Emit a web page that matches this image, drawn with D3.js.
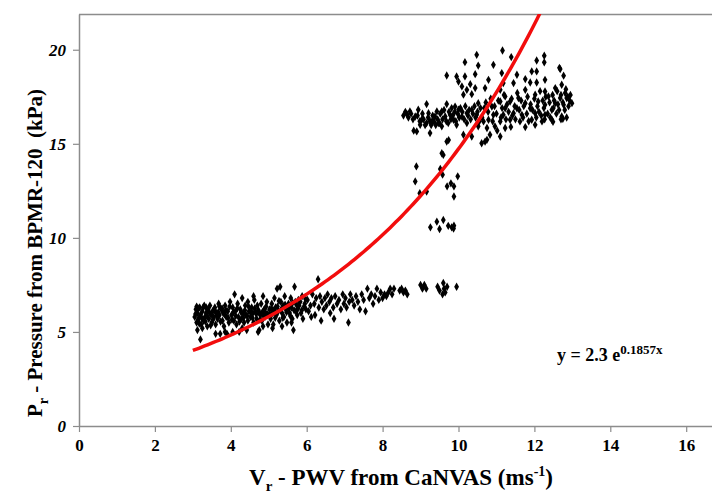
<!DOCTYPE html>
<html><head><meta charset="utf-8">
<script src="https://cdn.jsdelivr.net/npm/d3@7"></script>
<style>
html,body{margin:0;padding:0;background:#fff;}
svg{display:block;}
svg text{font-family:"Liberation Serif","Times New Roman",serif !important;}
</style></head>
<body>
<svg id="chart" width="712" height="493"></svg>
<script>
// ---------- data ----------
const xTicks = [0, 2, 4, 6, 8, 10, 12, 14, 16];
const yTicks = [0, 5, 10, 15, 20];
const fitA = 2.3, fitB = 0.1857;   // trend line y = 2.3 e^(0.1857x), shown on the chart
const fitRange = [3, 12.3];

const lowerCluster = [
[3.05,5.8],[3.08,6.2],[3.1,5.5],[3.12,6.0],[3.15,5.7],[3.18,6.3],[3.2,5.9],[3.22,5.4],[3.25,6.1],[3.28,5.6],[3.3,6.4],[3.32,5.8],[3.35,6.0],[3.38,5.3],[3.4,6.2],[3.42,5.7],[3.45,6.4],[3.48,5.9],[3.12,5.1],[3.2,4.6],[3.5,5.5],[3.35,6.3],[3.1,6.35],[3.25,5.2],
[3.52,6.1],[3.55,5.8],[3.58,6.3],[3.6,5.4],[3.62,6.0],[3.65,5.7],[3.68,6.5],[3.7,5.9],[3.72,4.9],[3.75,6.2],[3.78,5.6],[3.8,6.0],[3.82,5.3],[3.85,6.4],[3.88,5.8],[3.9,4.9],[3.92,6.1],[3.95,5.5],[3.98,6.6],[3.6,4.9],[3.85,5.0],[3.7,6.35],
[4.02,5.9],[4.05,6.3],[4.08,5.6],[4.1,7.0],[4.12,6.1],[4.15,5.4],[4.18,6.5],[4.2,5.8],[4.22,5.0],[4.25,6.2],[4.28,5.7],[4.3,6.8],[4.32,6.0],[4.35,5.5],[4.38,6.4],[4.4,5.9],[4.42,5.1],[4.45,6.6],[4.48,6.1],[4.05,5.0],[4.3,5.2],[4.45,5.6],
[4.52,5.8],[4.55,6.3],[4.58,6.0],[4.6,5.5],[4.62,6.7],[4.65,6.1],[4.68,5.7],[4.7,6.4],[4.72,5.0],[4.75,6.0],[4.78,5.9],[4.8,6.5],[4.82,5.6],[4.85,6.9],[4.88,6.2],[4.9,5.8],[4.92,6.0],[4.95,6.6],[4.98,5.4],[4.75,5.1],[4.6,6.9],[4.85,5.3],
[5.02,6.2],[5.05,5.7],[5.08,6.5],[5.1,6.0],[5.12,5.4],[5.15,6.8],[5.18,6.3],[5.2,5.9],[5.22,7.3],[5.25,6.1],[5.28,5.6],[5.3,7.4],[5.32,6.6],[5.35,6.0],[5.38,6.4],[5.4,5.8],[5.42,6.9],[5.45,6.2],[5.48,5.5],[5.1,5.2],[5.35,5.3],
[5.52,6.5],[5.55,6.0],[5.58,6.8],[5.6,6.3],[5.62,5.7],[5.65,5.1],[5.68,7.4],[5.7,6.6],[5.72,6.1],[5.75,5.9],[5.78,6.7],[5.8,6.4],[5.85,6.0],[5.88,6.9],[5.9,5.7],[5.95,6.5],[5.98,6.2],[5.6,5.5],
[6.02,6.7],[6.05,6.1],[6.1,6.4],[6.12,5.8],[6.15,7.0],[6.2,6.5],[6.22,5.9],[6.25,6.8],[6.3,7.8],[6.32,6.3],[6.35,6.9],[6.38,5.6],[6.4,6.6],[6.45,6.2],[6.48,6.8],
[6.52,6.4],[6.55,7.0],[6.6,6.6],[6.62,6.0],[6.65,6.8],[6.7,6.3],[6.72,5.7],[6.75,6.9],[6.8,6.5],[6.85,6.7],[6.9,6.2],[6.95,7.0],[6.98,6.5],
[7.02,6.8],[7.05,6.3],[7.1,5.5],[7.12,6.6],[7.15,7.0],[7.2,6.7],[7.25,6.4],[7.3,6.9],[7.35,6.6],[7.4,6.2],[7.45,7.0],
[7.5,6.7],[7.55,6.1],[7.6,7.3],[7.65,6.8],[7.7,7.0],[7.75,6.5],[7.8,6.9],[7.85,7.3],[7.9,6.7],[7.95,7.1],
[8.0,6.8],[8.05,7.0],[8.1,6.9],[8.15,7.1],[8.2,7.3],[8.25,7.0],[8.3,7.3],[8.45,7.2],[8.55,7.1],[8.6,7.2],[8.65,7.0],[8.5,7.3],
[9.0,7.5],[9.05,7.3],[9.1,7.5],[9.15,7.3],[9.45,7.4],[9.5,7.2],[9.6,7.6],[9.62,7.3],[9.65,7.1],[9.7,7.4],[9.58,7.0],[9.95,7.4],
[3.07,5.95],[3.14,6.25],[3.17,5.45],[3.23,5.75],[3.27,6.3],[3.33,5.55],[3.37,5.85],[3.43,6.05],[3.47,5.35],[3.53,5.65],[3.57,6.15],[3.63,5.85],[3.67,6.05],[3.73,5.55],[3.77,6.25],[3.83,5.95],[3.87,6.15],[3.93,5.75],[3.97,6.35],[4.03,5.65],[4.07,6.05],[4.13,5.85],[4.17,6.25],[4.23,5.55],[4.27,6.05],[4.33,5.75],[4.37,6.15],[4.43,5.85],[4.47,6.35],[4.53,6.05],[4.57,5.75],[4.63,6.25],[4.67,5.95],[4.73,6.15],[4.77,5.65],[4.83,6.05],[4.87,5.85],[4.93,6.35],[4.97,5.95],[5.03,5.95],[5.07,6.25],[5.13,6.15],[5.17,5.75],[5.23,6.35],[5.27,6.65],[5.33,6.2],[5.37,5.75],[5.43,6.45],[5.47,6.05],[5.53,6.25],[5.57,5.85],[5.63,6.55],[5.67,6.15],[5.73,6.45],[5.77,6.25],[5.83,6.6],[5.87,6.15],[5.93,6.35],[5.97,6.75]
];

const middlePoints = [
[8.89,13.8],[8.86,13.0],[8.98,12.37],[9.16,12.46],[9.56,14.5],[9.52,13.66],[9.58,13.36],[9.7,12.74],[9.88,12.74],[9.88,12.2],[9.98,13.27],[9.74,15.2],[9.8,12.9],
[9.26,10.56],[9.43,10.86],[9.5,10.47],[9.6,10.95],[9.73,10.64],[9.82,10.56],[9.88,10.65],[9.87,10.5]
];

const upperCluster = [
[10.48,19.73],[10.52,19.16],[10.17,19.34],[9.69,18.63],[9.95,18.58],[10.17,18.58],[10.44,18.7],[10.0,18.31],[10.31,18.17],[10.09,18.05],[10.22,17.87],[10.44,17.96],[10.70,17.96],[10.13,17.61],[10.35,17.64],
[9.16,17.11],[9.69,17.11],[9.91,16.98],[10.52,17.16],[8.64,16.58],[8.72,16.72],[8.86,16.45],[8.94,16.81],[9.21,16.63],[9.38,16.45],[9.56,16.72],[9.65,16.45],[9.78,16.54],[9.87,16.28],[10.0,16.81],[10.09,16.45],[10.22,16.63],[10.35,16.81],[10.48,16.54],
[9.03,16.28],[9.16,16.1],[9.30,16.19],[9.47,16.1],[9.56,15.93],[9.73,16.1],[8.99,16.01],[8.9,15.66],[9.25,15.57],[9.69,15.12],[10.13,15.48],[10.35,15.39],[10.61,15.03],[10.70,15.12],[9.6,14.41],[10.52,15.93],[10.66,16.19],[10.75,15.84],[9.43,16.72],[10.22,16.1],[9.95,16.01],
[11.16,19.96],[11.39,19.61],[12.26,19.68],[12.06,19.43],[12.26,19.33],[10.92,19.2],[12.68,18.97],[11.93,18.85],[12.06,18.85],[11.14,18.76],[11.54,18.67],[10.79,18.4],[11.76,18.44],[12.28,18.4],[12.77,18.62],[11.18,18.23],[11.45,18.23],[11.89,18.26],[12.06,18.26],[12.72,18.14],
[11.1,17.87],[11.76,17.87],[12.28,17.78],[12.55,17.96],[12.81,17.7],[12.99,17.16],[11.23,17.52],[11.58,17.43],[12.02,17.61],[12.37,17.52],[12.68,17.43],[12.85,17.43],[11.1,17.25],[11.36,17.25],[11.76,17.16],[12.1,17.25],[12.28,17.07],[12.55,17.16],[12.77,17.07],
[10.88,16.98],[11.23,16.89],[11.54,16.89],[11.89,16.89],[12.46,16.81],[10.92,16.54],[11.18,16.54],[11.45,16.63],[11.67,16.54],[12.02,16.63],[12.28,16.54],[12.72,16.45],[10.79,16.28],[11.1,16.19],[11.36,16.28],[11.62,16.19],[11.93,16.28],[12.2,16.19],[12.46,16.28],
[10.96,15.93],[11.23,15.84],[11.76,15.89],[12.02,16.01],[10.83,15.48],[11.1,15.39],[10.75,15.21],[12.93,17.3],[12.27,16.3],[12.75,16.33],[12.49,16.17],[12.66,19.04],
[10.62,16.4],[10.68,16.9],[10.72,17.2],[10.78,16.7],[10.85,17.4],[10.9,16.2],[10.95,17.0],[11.0,16.6],[11.02,15.7],[11.05,17.3],[11.12,16.4],[11.15,16.9],[11.2,17.6],[11.25,16.3],[11.28,17.1],[11.32,16.7],[11.38,15.9],[11.4,17.4],[11.42,16.5],[11.48,17.0],[11.5,16.3],[11.55,17.7],[11.6,16.8],[11.65,17.3],[11.7,16.4],[11.72,17.0],[11.8,16.6],[11.82,17.5],[11.85,16.2],[11.9,17.1],[11.95,16.8],[12.0,17.4],[12.05,16.4],[12.08,17.0],[12.12,16.7],[12.15,17.8],[12.18,16.5],[12.22,17.3],[12.25,16.9],[12.3,17.5],[12.35,16.6],[12.4,17.2],[12.42,16.4],[12.48,17.6],[12.5,16.9],[12.52,17.3],[12.58,16.6],[12.6,17.8],[12.62,17.1],[12.65,16.8],[12.7,17.6],[12.75,17.2],[12.8,16.8],[12.83,17.9],[12.88,17.5],[12.9,17.0],[12.95,17.6],[12.85,16.4],[12.7,16.3],
[8.55,16.5],[8.6,16.7],[8.68,16.4],[8.75,16.6],[8.8,16.3],[8.82,15.7],[8.92,16.5],[8.98,16.2],[9.05,16.6],[9.08,16.3],[9.12,16.0],[9.2,16.4],[9.25,16.2],[9.28,16.0],[9.32,16.5],[9.35,16.2],[9.4,16.0],[9.45,16.3],[9.5,16.1],[9.52,16.6],[9.58,16.3],[9.62,16.8],[9.68,16.2],[9.75,16.7],[9.8,16.3],[9.82,16.9],[9.85,16.5],[9.9,16.7],[9.93,16.2],[9.98,16.6],[10.02,16.4],[10.05,16.9],[10.1,16.7],[10.15,16.3],[10.18,17.0],[10.25,16.5],[10.28,16.8],[10.32,16.3],[10.38,16.6],[10.42,17.0],[10.45,16.4],[10.5,16.7],[10.55,16.2],[10.58,16.9]
];

// ---------- layout ----------
const W = 712, H = 493;
const mLeft = 79, mTop = 14, mBottom = 426, mRight = 712;
const SERIF = "Liberation Serif, Times New Roman, serif";
const svg = d3.select("#chart");

const x = d3.scaleLinear().domain([0, 16.68]).range([mLeft, mRight]);
const y = d3.scaleLinear().domain([0, 21.9]).range([mBottom, mTop]);

svg.append("defs").append("clipPath").attr("id", "plotclip")
  .append("rect").attr("x", mLeft).attr("y", mTop).attr("width", mRight - mLeft).attr("height", mBottom - mTop);

const axisColor = "#8c8c8c";

// top border
svg.append("line").attr("x1", mLeft).attr("x2", mRight).attr("y1", mTop + 0.5).attr("y2", mTop + 0.5)
  .attr("stroke", axisColor).attr("stroke-width", 1.5);

// x axis
const gx = svg.append("g").attr("transform", `translate(0,${mBottom})`)
  .call(d3.axisBottom(x).tickValues(xTicks).tickSize(6).tickSizeOuter(0).tickPadding(7).tickFormat(d3.format("d")));
gx.attr("font-family", SERIF);
gx.select(".domain").attr("stroke", axisColor).attr("stroke-width", 1.5);
gx.selectAll(".tick line").attr("stroke", axisColor).attr("stroke-width", 1.2);
gx.selectAll(".tick text").attr("fill", "#000").attr("font-size", 17).attr("font-weight", "bold")
  .attr("font-family", SERIF);

// y axis
const gy = svg.append("g").attr("transform", `translate(${mLeft},0)`)
  .call(d3.axisLeft(y).tickValues(yTicks).tickSize(6).tickSizeOuter(0).tickPadding(7).tickFormat(d3.format("d")));
gy.attr("font-family", SERIF);
gy.select(".domain").attr("stroke", axisColor).attr("stroke-width", 1.5);
gy.selectAll(".tick line").attr("stroke", axisColor).attr("stroke-width", 1.2);
gy.selectAll(".tick text").attr("fill", "#000").attr("font-size", 17).attr("font-weight", "bold")
  .attr("font-style", "italic").attr("font-family", SERIF);

// points
const pts = lowerCluster.concat(middlePoints, upperCluster);
const sym = d3.symbol().type(d3.symbolDiamond).size(20);
svg.append("g").attr("clip-path", "url(#plotclip)")
  .selectAll("path").data(pts).join("path")
  .attr("transform", d => `translate(${x(d[0])},${y(d[1])})`)
  .attr("d", sym).attr("fill", "#000");

// trend line
const nSteps = 120;
const fitPts = d3.range(nSteps + 1).map(i => {
  const xv = fitRange[0] + (fitRange[1] - fitRange[0]) * i / nSteps;
  return [xv, fitA * Math.exp(fitB * xv)];
});
svg.append("g").attr("clip-path", "url(#plotclip)").append("path")
  .datum(fitPts)
  .attr("d", d3.line().x(d => x(d[0])).y(d => y(d[1])))
  .attr("fill", "none").attr("stroke", "#f20d0d").attr("stroke-width", 3.5);

// equation
const eq = svg.append("text").attr("x", 557).attr("y", 361).attr("font-family", SERIF)
  .attr("font-size", 18).attr("font-weight", "bold").attr("fill", "#000");
eq.append("tspan").text("y = 2.3 e");
eq.append("tspan").attr("font-size", 13).attr("dy", -7).text("0.1857x");

// x title
const xt = svg.append("text").attr("x", 401).attr("y", 485).attr("text-anchor", "middle").attr("font-family", SERIF)
  .attr("font-size", 23).attr("font-weight", "bold").attr("fill", "#000");
xt.append("tspan").text("V");
xt.append("tspan").attr("font-size", 15).attr("dy", 6).text("r");
xt.append("tspan").attr("dy", -6).text(" - PWV from CaNVAS (ms");
xt.append("tspan").attr("font-size", 14).attr("dy", -9).text("-1");
xt.append("tspan").attr("dy", 9).text(")");

// y title
const yt = svg.append("text").attr("transform", `translate(42,253) rotate(-90)`).attr("text-anchor", "middle")
  .attr("font-family", SERIF)
  .attr("font-size", 21).attr("font-weight", "bold").attr("fill", "#000")
  .attr("xml:space", "preserve").style("white-space", "pre");
yt.append("tspan").text("P");
yt.append("tspan").attr("font-size", 14).attr("dy", 6).text("r");
yt.append("tspan").attr("dy", -6).text(" - Pressure from BPMR-120  (kPa)");
</script>
</body></html>
